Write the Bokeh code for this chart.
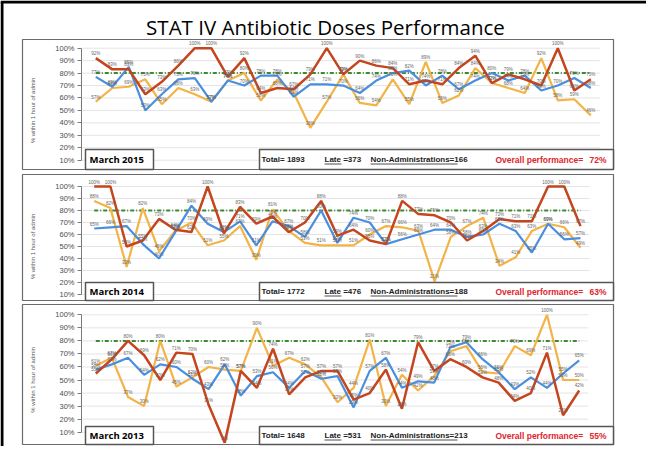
import math
from bokeh.plotting import figure
from bokeh.models import Range1d, LinearAxis, FixedTicker, PrintfTickFormatter
from bokeh.core.properties import value
from bokeh.embed import file_html
from bokeh.resources import INLINE

# ---------------- data ----------------
days = list(range(1, 32))

red_2015 = [92, 83, 83, 63, 73, 86, 100, 100, 77, 92, 64, 68, 67, 79, 100, 79,
            90, 86, 84, 71, 74, 71, 84, 94, 72, 79, 75, 70, 100, 66, 75]
blue_2015 = [77, 69, 85, 50, 63, 75, 76, 57, 74, 70, 78, 78, 61, 71, 71, 70,
             64, 74, 80, 82, 70, 78, 67, 74, 80, 74, 78, 66, 70, 76, 68]
orange_2015 = [57, 68, 69, 75, 55, 68, 63, 57, 74, 80, 58, 75, 64, 36, 57, 79,
               56, 54, 75, 55, 89, 56, 62, 84, 72, 68, 64, 92, 58, 59, 46]

red_2014 = [100, 100, 50, 55, 73, 64, 62, 100, 61, 83, 69, 75, 62, 70, 88, 59,
            64, 55, 52, 88, 77, 76, 70, 55, 63, 73, 71, 71, 100, 100, 67]
blue_2014 = [65, 66, 67, 52, 40, 62, 84, 69, 62, 71, 51, 71, 67, 58, 80, 53,
             74, 70, 52, 56, 60, 64, 64, 58, 60, 69, 63, 45, 69, 56, 57]
orange_2014 = [88, 82, 33, 82, 46, 63, 70, 51, 55, 67, 39, 81, 63, 53, 51, 51,
               51, 60, 67, 66, 63, 21, 58, 67, 74, 34, 41, 63, 69, 66, 49]

red_2013 = [55, 66, 80, 69, 50, 71, 70, 31, 2, 57, 44, 74, 39, 52, 57, 57,
            35, 40, 58, 28, 79, 57, 66, 60, 52, 48, 34, 40, 71, 23, 42]
blue_2013 = [58, 62, 67, 54, 62, 60, 51, 43, 62, 38, 53, 56, 44, 57, 51, 53,
             29, 57, 67, 44, 49, 48, 75, 79, 66, 56, 43, 52, 44, 55, 65]
orange_2013 = [61, 67, 37, 30, 80, 45, 52, 60, 58, 57, 90, 61, 67, 62, 52, 33,
               44, 81, 30, 54, 42, 53, 72, 76, 56, 55, 76, 69, 100, 50, 50]

panel_labels = ["March 2015", "March 2014", "March 2013"]
totals = [1893, 1772, 1648]
lates = [373, 476, 531]
non_admins = [166, 188, 213]
overall = [72, 63, 55]
target = 80
y_ticks = [10, 20, 30, 40, 50, 60, 70, 80, 90, 100]

title_text = "STAT IV Antibiotic Doses Performance"
axis_title = "% within 1 hour of admin"

series = [
    (red_2015, blue_2015, orange_2015),
    (red_2014, blue_2014, orange_2014),
    (red_2013, blue_2013, orange_2013),
]

# ---------------- layout (canvas pixels) ----------------
W, H = 646, 446
geom = [
    dict(box=(22, 613, 39, 169), y100=47.7, y10=159.7, d1=95.3, d31=590.3, tag=(149, 169)),
    dict(box=(22, 613, 174, 300), y100=186.0, y10=294.0, d1=93.7, d31=580.0, tag=(282, 300)),
    dict(box=(22, 613, 304, 444), y100=314.3, y10=431.7, d1=95.3, d31=578.7, tag=(426, 444)),
]

BLUE = "#4A8FDF"
ORANGE = "#F2B347"
RED = "#C5451E"
GREEN = "#3A8A2E"
FONT = value("Liberation Sans")

p = figure(width=W, height=H, x_range=Range1d(0, W), y_range=Range1d(H, 0),
           min_border=0, toolbar_location=None, output_backend="svg",
           x_axis_location=None, y_axis_location=None,
           background_fill_color="white", border_fill_color="white",
           outline_line_color=None)
p.xgrid.visible = False
p.ygrid.visible = False

# slide border
p.segment(x0=[0, 1.5], y0=[1.5, 1.5], x1=[W, 1.5], y1=[1.5, H], line_color="black", line_width=3)

# title
p.text(x=[325], y=[26], text=[title_text], text_font=value("Open Sans"), text_font_size="20.5px",
       text_align="center", text_baseline="alphabetic", text_color="black")

AXIS_X = 81

for k, g in enumerate(geom):
    xr, yr = f"x{k}", f"y{k}"
    # ranges so that day / percent map onto the panel area
    s = (g["d31"] - g["d1"]) / (days[-1] - days[0])
    xs = days[0] - g["d1"] / s
    p.extra_x_ranges[xr] = Range1d(xs, xs + W / s)
    u = (g["y10"] - g["y100"]) / 90.0
    p.extra_y_ranges[yr] = Range1d(100 - (H - g["y100"]) / u, 100 + g["y100"] / u)

    l, r, t, b = g["box"]
    p.quad(left=[l], right=[r], top=[t], bottom=[b], fill_color="white",
           line_color="#6b6b6b", line_width=1.2)

    # gridlines
    grid_end = g["d31"] + 9
    p.segment(x0=[AXIS_X] * len(y_ticks), x1=[grid_end] * len(y_ticks), y0=y_ticks, y1=y_ticks,
              y_range_name=yr, line_color="#e4e4e4", line_width=1)

    ax = LinearAxis(y_range_name=yr, fixed_location=AXIS_X, bounds=(10, 100),
                    ticker=FixedTicker(ticks=y_ticks, minor_ticks=[]),
                    formatter=PrintfTickFormatter(format="%d%%"),
                    major_label_text_font_size="7.5px", major_label_text_color="#4d4d4d",
                    major_label_text_font="Liberation Sans",
                    axis_line_color="#7a7a7a", major_tick_line_color="#7a7a7a",
                    major_tick_out=4, major_tick_in=0, minor_tick_out=0, minor_tick_in=0,
                    major_label_standoff=3)
    p.add_layout(ax, "left")

    mid = g["y100"] + 50 * u
    p.text(x=[32], y=[mid], text=[axis_title], angle=math.pi / 2, text_font=FONT,
           text_font_size="6px", text_color="#555555", text_align="center", text_baseline="middle")

    red, blue, orange = series[k]
    p.line(x=[days[0], days[-1]], y=[target, target], x_range_name=xr, y_range_name=yr,
           line_color=GREEN, line_width=2, line_dash="4 2 1 2")
    for vals, col, lw in ((orange, ORANGE, 2.2), (blue, BLUE, 2.2), (red, RED, 2.5)):
        p.line(x=days, y=vals, x_range_name=xr, y_range_name=yr, line_color=col, line_width=lw)
    for vals in (orange, blue, red):
        p.text(x=days, y=vals, text=[f"{v}%" for v in vals], x_range_name=xr, y_range_name=yr,
               text_font=FONT, text_font_size="4.5px", text_color="#666666",
               text_align="center", text_baseline="bottom", y_offset=-2)

    # tag box and stats box
    tt, tb = g["tag"]
    cy = (tt + tb) / 2
    p.quad(left=[85], right=[153], top=[tt], bottom=[tb], fill_color="white",
           line_color="#555555", line_width=1.5)
    p.text(x=[89], y=[cy], text=[panel_labels[k]], text_font=value("Open Sans"),
           text_font_style="bold", text_font_size="9.5px", text_color="black",
           text_baseline="middle")
    p.quad(left=[259], right=[613], top=[tt], bottom=[tb], fill_color="white",
           line_color="#555555", line_width=1.5)
    p.text(x=[261], y=[cy], text=[f"Total= {totals[k]}"], text_font=FONT, text_font_style="bold",
           text_font_size="8px", text_color="#222222", text_baseline="middle")
    p.text(x=[324], y=[cy], text=[f"Late ={lates[k]}"], text_font=FONT, text_font_style="bold",
           text_font_size="8px", text_color="#222222", text_baseline="middle")
    p.text(x=[370], y=[cy], text=[f"Non-Administrations={non_admins[k]}"], text_font=FONT,
           text_font_style="bold", text_font_size="8px", text_color="#222222", text_baseline="middle")
    p.text(x=[495], y=[cy], text=["Overall performance="], text_font=FONT,
           text_font_style="bold", text_font_size="8.5px", text_color="#E0252B", text_baseline="middle")
    p.text(x=[606], y=[cy], text=[f"{overall[k]}%"], text_font=FONT, text_align="right",
           text_font_style="bold", text_font_size="8.5px", text_color="#E0252B", text_baseline="middle")
    p.segment(x0=[324, 370], x1=[341, 457], y0=[cy + 4.5, cy + 4.5], y1=[cy + 4.5, cy + 4.5],
              line_color="#222222", line_width=0.8)

open("out.html", "w").write(file_html(p, INLINE))
